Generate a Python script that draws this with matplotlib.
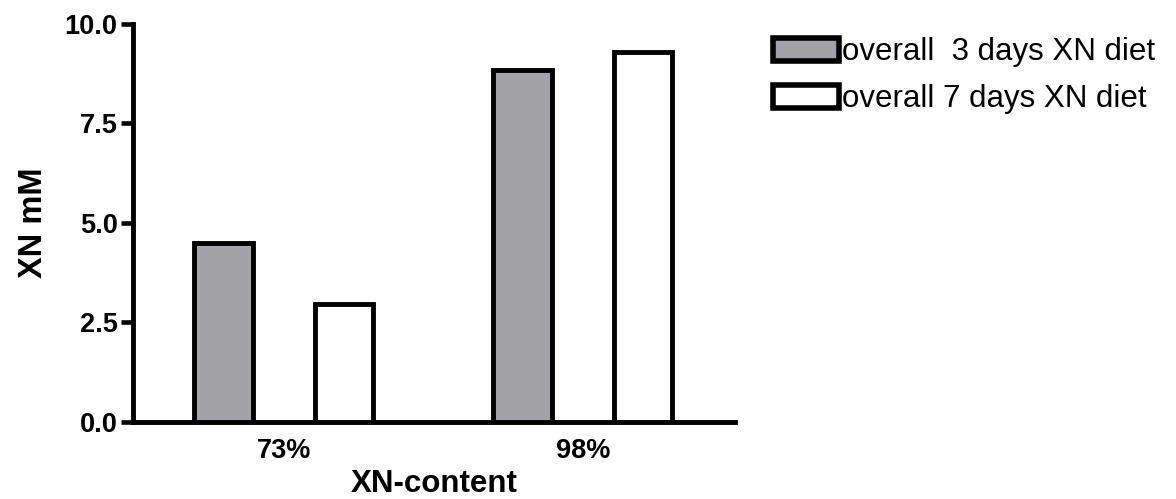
import matplotlib
matplotlib.use("Agg")
import matplotlib.pyplot as plt
from matplotlib.patches import Patch
import numpy as np

plt.rcParams['font.family'] = ['Liberation Sans', 'DejaVu Sans']

# Data
groups = ["73%", "98%"]
series_labels = ["overall  3 days XN diet", "overall 7 days XN diet"]
day3_values = [4.5, 8.84]
day7_values = [2.96, 9.3]
yticks = [0.0, 2.5, 5.0, 7.5, 10.0]
ytick_labels = ["0.0", "2.5", "5.0", "7.5", "10.0"]

gray = "#a3a2a7"
W, H = 1176, 499
fig = plt.figure(figsize=(W / 100, H / 100), dpi=100)
ax = fig.add_axes([133 / W, 1 - 421.7 / H, (735 - 133) / W, (421.7 - 24) / H])

x = np.arange(len(groups))
bw = 0.196
off = 0.2015
ax.bar(x - off, day3_values, bw, color=gray, edgecolor="black", linewidth=3.5, zorder=3)
ax.bar(x + off, day7_values, bw, color="white", edgecolor="black", linewidth=3.5, zorder=3)

ax.set_xlim(-0.504, 1.509)
ax.set_ylim(0, 10)

for s in ["top", "right"]:
    ax.spines[s].set_visible(False)
for s in ["left", "bottom"]:
    ax.spines[s].set_linewidth(3.5)
    ax.spines[s].set_capstyle("projecting")

ax.set_yticks(yticks)
ax.set_yticklabels(ytick_labels, fontsize=19.5, fontweight="bold")
ax.tick_params(axis="y", length=9, width=3.3, pad=2)
ax.set_xticks(x)
ax.set_xticklabels(groups, fontsize=19.5, fontweight="bold")
ax.tick_params(axis="x", length=0, pad=12)

ax.set_ylabel("XN mM", fontsize=23.5, fontweight="bold")
ax.yaxis.set_label_coords(-0.1395, 0.5)
ax.set_xlabel("XN-content", fontsize=22.5, fontweight="bold")
ax.xaxis.label.set_va("baseline")
ax.xaxis.set_label_coords(0.5, (421.7 - 492.5) / 397.7)

handles = [Patch(facecolor=gray, edgecolor="black", linewidth=4),
           Patch(facecolor="white", edgecolor="black", linewidth=4)]
fig.legend(handles, series_labels, loc="upper left",
           bbox_to_anchor=(773 / W, 1 - 37 / H), frameon=False,
           fontsize=22.5, handlelength=2.1, handleheight=0.75,
           handletextpad=0.12, labelspacing=0.55, borderpad=0, borderaxespad=0)

fig.savefig("out.png", dpi=100)
